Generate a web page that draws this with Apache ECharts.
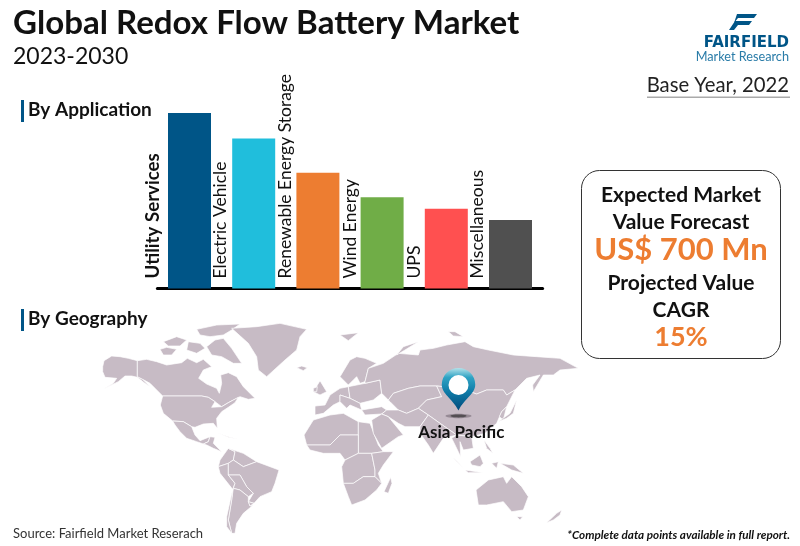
<!DOCTYPE html>
<html>
<head>
<meta charset="utf-8">
<style>
  html, body { margin: 0; padding: 0; background: #fff; }
  #main { width: 800px; height: 546px; }
</style>
</head>
<body>
<div id="main"></div>
<script src="https://cdn.jsdelivr.net/npm/echarts@6/dist/echarts.min.js"></script>
<script>
// bar data, no axis in the picture so values are read as share of the tallest bar
const categories = ['Utility Services', 'Electric Vehicle', 'Renewable Energy Storage', 'Wind Energy', 'UPS', 'Miscellaneous']
const shares = [100, 85.5, 66, 52, 45.5, 39]
const barColors = ['#005587', '#20BEDC', '#ED7D31', '#70AD47', '#FF5050', '#505050']
const labelShift = [-37, -33, -33, -32, -32, -33]

const titleText = 'Global Redox Flow Battery Market'
const yearsText = '2023-2030'
const baseYearText = 'Base Year, 2022'
const boxLines = ['Expected Market', 'Value Forecast', 'US$ 700 Mn', 'Projected Value', 'CAGR', '15%']
const regionText = 'Asia Pacific'
const sourceText = 'Source: Fairfield Market Reserach'
const noteText = '*Complete data points available in full report.'

// rough map outlines, 3 units to the pixel, origin at (100,320)
const westShapes = [
  [[8,140],[12,122],[35,108],[60,110],[85,115],[112,122],[112,170],[128,178],[150,200],[135,190],[112,172],[95,168],[75,168],[55,185],[10,207],[40,190],[50,175],[15,172],[8,155]],
  [[112,122],[140,118],[170,125],[200,135],[245,128],[262,115],[290,128],[310,118],[335,140],[310,150],[296,175],[320,192],[350,205],[358,220],[365,190],[362,165],[385,158],[410,170],[430,200],[445,215],[465,235],[445,238],[420,230],[400,240],[385,248],[365,260],[345,245],[325,232],[305,228],[188,228],[165,205],[150,190],[128,178],[112,170]],
  [[188,228],[305,228],[325,232],[345,245],[335,262],[365,260],[385,248],[400,240],[415,232],[405,248],[385,262],[365,275],[350,295],[352,325],[340,310],[310,312],[285,322],[275,320],[250,305],[218,303],[190,280],[181,255]],
  [[218,303],[250,305],[275,320],[285,345],[300,362],[330,350],[325,365],[310,372],[290,365],[260,355],[240,335],[225,315]],
  [[310,372],[325,365],[330,350],[345,352],[340,370],[360,390],[365,395],[340,385],[320,375]],
  [[355,340],[385,350],[415,358],[385,352]],
  [[180,88],[200,82],[230,88],[215,105],[190,105]],
  [[190,65],[230,50],[260,60],[240,78],[205,78]],
  [[265,65],[300,70],[315,85],[290,100],[260,90]],
  [[290,28],[350,15],[420,12],[395,30],[370,45],[330,50],[300,45]],
  [[320,80],[345,60],[370,55],[395,85],[425,130],[400,130],[365,110],[335,105]],
  [[395,25],[470,20],[540,10],[620,28],[600,50],[590,90],[555,120],[500,170],[475,150],[470,110],[445,70]],
  [[590,143],[605,138],[622,143],[610,152]],
  [[385,385],[405,395],[400,420],[385,430],[355,440],[360,420]],
  [[355,440],[385,430],[385,465],[405,490],[398,508],[360,460]],
  [[385,385],[430,400],[470,425],[430,440],[400,420],[405,395]],
  [[430,440],[470,425],[537,450],[525,490],[515,515],[480,530],[462,550],[445,545],[460,520],[440,500],[420,465],[385,465],[385,430],[400,420]],
  [[385,465],[420,465],[440,500],[460,520],[445,530],[420,510],[400,505],[405,490]],
  [[400,505],[420,510],[445,530],[445,545],[450,558],[460,555],[430,580],[410,610],[405,640],[395,640],[385,600],[395,540]],
  [[398,508],[400,505],[395,540],[385,600],[395,640],[380,620],[380,590]],
  [[445,545],[462,550],[450,558]],
  [[640,215],[660,182],[680,215],[660,225]],
  [[640,205],[652,200],[650,215],[640,215]]
]
// same scale, origin at (340,320)
const eastShapes = [
  [[-108,345],[-80,300],[-30,285],[10,280],[55,305],[55,345],[0,345],[-30,375],[-100,375]],
  [[55,305],[90,310],[115,375],[130,395],[95,400],[55,400],[55,345]],
  [[-100,375],[-30,375],[0,345],[55,345],[55,400],[15,420],[0,400],[-50,400],[-90,390]],
  [[15,420],[55,400],[95,400],[105,450],[105,470],[70,470],[40,490],[10,490],[5,440]],
  [[95,400],[130,395],[148,395],[160,395],[130,435],[115,460],[125,490],[105,470],[105,450]],
  [[10,490],[40,490],[70,470],[105,470],[125,490],[110,510],[75,540],[35,555],[25,530]],
  [[132,515],[152,472],[156,490],[145,520]],
  [[-75,285],[-75,258],[-45,255],[-30,225],[0,205],[25,200],[30,235],[0,225],[0,245],[-20,255],[-50,280]],
  [[0,170],[30,120],[50,110],[75,115],[110,130],[85,145],[75,185],[60,190],[50,170],[25,195]],
  [[25,200],[75,190],[120,180],[125,220],[100,240],[60,250],[30,235]],
  [[0,225],[30,235],[60,250],[65,270],[30,255],[20,265],[0,245]],
  [[65,270],[125,260],[140,270],[125,282],[75,285]],
  [[85,145],[130,130],[175,100],[235,105],[240,90],[280,85],[320,75],[375,65],[400,80],[445,90],[520,105],[590,110],[660,115],[715,145],[660,150],[640,165],[610,165],[580,215],[578,195],[600,165],[560,175],[525,210],[500,225],[490,210],[440,210],[410,222],[360,205],[290,198],[240,198],[205,205],[160,220],[145,240],[125,220],[120,180],[75,190],[75,185]],
  [[145,240],[160,220],[205,205],[240,198],[290,198],[305,230],[260,240],[235,265],[200,280],[175,270],[150,245]],
  [[290,198],[360,205],[410,222],[440,210],[490,210],[500,225],[525,210],[500,260],[485,275],[470,310],[435,340],[395,350],[350,345],[300,310],[265,285],[235,265],[260,240],[305,230]],
  [[485,275],[500,260],[490,300],[478,290]],
  [[125,282],[140,270],[175,270],[200,280],[235,265],[265,285],[240,320],[195,320],[175,310],[145,290]],
  [[95,300],[125,282],[145,290],[190,345],[175,350],[125,385],[100,340]],
  [[240,320],[265,285],[300,310],[350,345],[310,355],[280,400],[265,375],[240,340]],
  [[350,345],[395,350],[400,385],[370,390],[360,365],[362,410],[345,375],[335,355]],
  [[475,305],[510,280],[530,240],[520,280],[500,295]],
  [[338,410],[375,450],[350,425]],
  [[375,450],[430,458],[385,458]],
  [[390,425],[420,405],[430,430],[420,440],[395,435]],
  [[432,360],[450,385],[458,400],[440,385]],
  [[455,430],[475,425],[470,445]],
  [[480,430],[520,435],[550,460],[515,450]],
  [[408,510],[445,480],[490,470],[500,490],[515,470],[545,500],[565,530],[550,570],[515,575],[490,545],[440,555],[415,555]],
  [[530,590],[548,590],[540,600]],
  [[620,608],[650,580],[665,570],[660,585],[640,600]],
  [[0,45],[55,38],[25,62]],
  [[170,105],[190,80],[235,65],[195,90]],
  [[325,35],[345,35],[370,50],[340,48]]
]
const pinPoint = [1075.5, 207.75]

const mapRings = westShapes.concat(eastShapes.map(ring => ring.map(p => [p[0] + 720, p[1]])))
const geoJson = {
  type: 'FeatureCollection',
  features: mapRings.map((ring, i) => ({
    type: 'Feature',
    properties: { name: 'r' + i },
    geometry: { type: 'Polygon', coordinates: [ring.concat([ring[0]])] }
  }))
}
echarts.registerMap('world', geoJson)

// fit the outlines back onto the pixels they came from
const allPts = mapRings.flat()
const minX = Math.min(...allPts.map(p => p[0]))
const maxX = Math.max(...allPts.map(p => p[0]))
const minY = Math.min(...allPts.map(p => p[1]))
const maxY = Math.max(...allPts.map(p => p[1]))

const myChart = echarts.init(document.getElementById('main'), null, { renderer: 'canvas' })

const font = 'Lato'
const textEl = (text, x, y, size, weight, color, align, family) => ({
  type: 'text',
  x,
  y,
  silent: true,
  z: 20,
  style: { text, fill: color || '#111', fontFamily: family || font, fontSize: size, fontWeight: weight || 'normal', align: align || 'left', verticalAlign: 'middle' }
})

const pinFill = new echarts.graphic.LinearGradient(0, 0, 0, 1, [
  { offset: 0, color: '#B4E2EA' },
  { offset: 0.22, color: '#2FA3C4' },
  { offset: 0.55, color: '#0F7CA8' },
  { offset: 1, color: '#004A7C' }
])

const option = {
  animation: false,
  backgroundColor: '#fff',
  grid: { left: 157.4, right: 257.4, top: 113, height: 175.5 },
  xAxis: {
    type: 'category',
    data: categories,
    axisTick: { show: false },
    axisLabel: { show: false },
    axisLine: { lineStyle: { color: '#000', width: 3 } }
  },
  yAxis: { type: 'value', min: 0, max: 100, show: false },
  geo: {
    map: 'world',
    silent: true,
    projection: { project: p => p, unproject: p => p },
    left: 100 + minX / 3,
    top: 320 + minY / 3,
    width: (maxX - minX) / 3,
    height: (maxY - minY) / 3,
    itemStyle: { areaColor: '#C7BBC5', borderColor: '#fff', borderWidth: 0.7 },
    label: { show: false }
  },
  series: [
    {
      type: 'bar',
      barWidth: 43,
      silent: true,
      data: shares.map((value, i) => ({
        value,
        itemStyle: { color: barColors[i] },
        label: {
          fontWeight: i === 0 ? 'bold' : 'normal',
          fontSize: i === 0 ? 18.7 : 17.5,
          offset: [0, labelShift[i]]
        }
      })),
      label: {
        show: true,
        position: 'insideBottom',
        distance: 10,
        rotate: 90,
        align: 'left',
        verticalAlign: 'middle',
        color: '#111',
        fontFamily: font,
        formatter: p => categories[p.dataIndex]
      }
    },
    {
      // map pin, placed in the map's own coordinates
      type: 'scatter',
      coordinateSystem: 'geo',
      silent: true,
      z: 5,
      symbol: 'path://M16.6 42.5C10 30 0 26 0 16.6A16.6 16.6 0 1 1 33.2 16.6C33.2 26 23 30 16.6 42.5Z',
      symbolSize: [33.5, 42.5],
      itemStyle: { color: pinFill, opacity: 1 },
      data: [pinPoint]
    }
  ],
  graphic: [
    textEl(titleText, 13, 23, 33.1, 'bold'),
    textEl(yearsText, 13, 57, 23),
    textEl(baseYearText, 789, 85, 20.3, 'normal', '#222', 'right'),
    { type: 'rect', shape: { x: 647, y: 96.5, width: 143, height: 1.5 }, style: { fill: '#aaa' }, silent: true },

    // logo
    { type: 'polygon', shape: { points: [[737, 14], [757, 14], [754, 18], [738, 18], [734, 23]] }, style: { fill: '#005587' }, silent: true },
    { type: 'polygon', shape: { points: [[735, 21], [752, 21], [749, 25], [738, 25], [734, 30], [729, 30]] }, style: { fill: '#005587' }, silent: true },
    textEl('FAIRFIELD', 789, 43.5, 15, 'bold', '#005587', 'right', 'DejaVu Sans'),
    textEl('Market Research', 789, 57, 12.7, 'normal', '#2A7CA8', 'right'),

    // section heads
    { type: 'rect', shape: { x: 21, y: 100, width: 3, height: 22 }, style: { fill: '#005587' }, silent: true },
    textEl('By Application', 28, 110, 19, 'bold'),
    { type: 'rect', shape: { x: 21, y: 309, width: 3, height: 22 }, style: { fill: '#005587' }, silent: true },
    textEl('By Geography', 28, 319, 19, 'bold'),

    // forecast box
    { type: 'rect', shape: { x: 581.5, y: 170.5, width: 199, height: 188, r: 18 }, style: { fill: 'none', stroke: '#333', lineWidth: 1 }, silent: true },
    textEl(boxLines[0], 681, 195, 21, 'bold', '#111', 'center'),
    textEl(boxLines[1], 681, 222, 21, 'bold', '#111', 'center'),
    textEl(boxLines[2], 681, 250, 31, 'bold', '#ED7D31', 'center'),
    textEl(boxLines[3], 681, 283, 21, 'bold', '#111', 'center'),
    textEl(boxLines[4], 681, 310, 21, 'bold', '#111', 'center'),
    textEl(boxLines[5], 681, 337, 27, 'bold', '#ED7D31', 'center'),

    // pin hole and shadow
    { type: 'ellipse', shape: { cx: 458.5, cy: 416, rx: 13, ry: 2.2 }, style: { fill: 'rgba(90,80,90,0.45)' }, z: 18, silent: true },
    { type: 'ellipse', shape: { cx: 458.5, cy: 416, rx: 8, ry: 1.4 }, style: { fill: 'rgba(40,40,40,0.6)' }, z: 18, silent: true },
    { type: 'circle', shape: { cx: 458.5, cy: 385, r: 10 }, style: { fill: '#fff' }, z: 20, silent: true },
    textEl(regionText, 461.3, 432.5, 17, 'bold', '#111', 'center'),

    // footer
    textEl(sourceText, 13, 534, 13, 'normal', '#333'),
    textEl(noteText, 790, 535, 11.7, 'bold', '#111', 'right')
  ]
}
option.graphic[option.graphic.length - 1].style.fontStyle = 'italic'

myChart.setOption(option)
</script>
</body>
</html>
